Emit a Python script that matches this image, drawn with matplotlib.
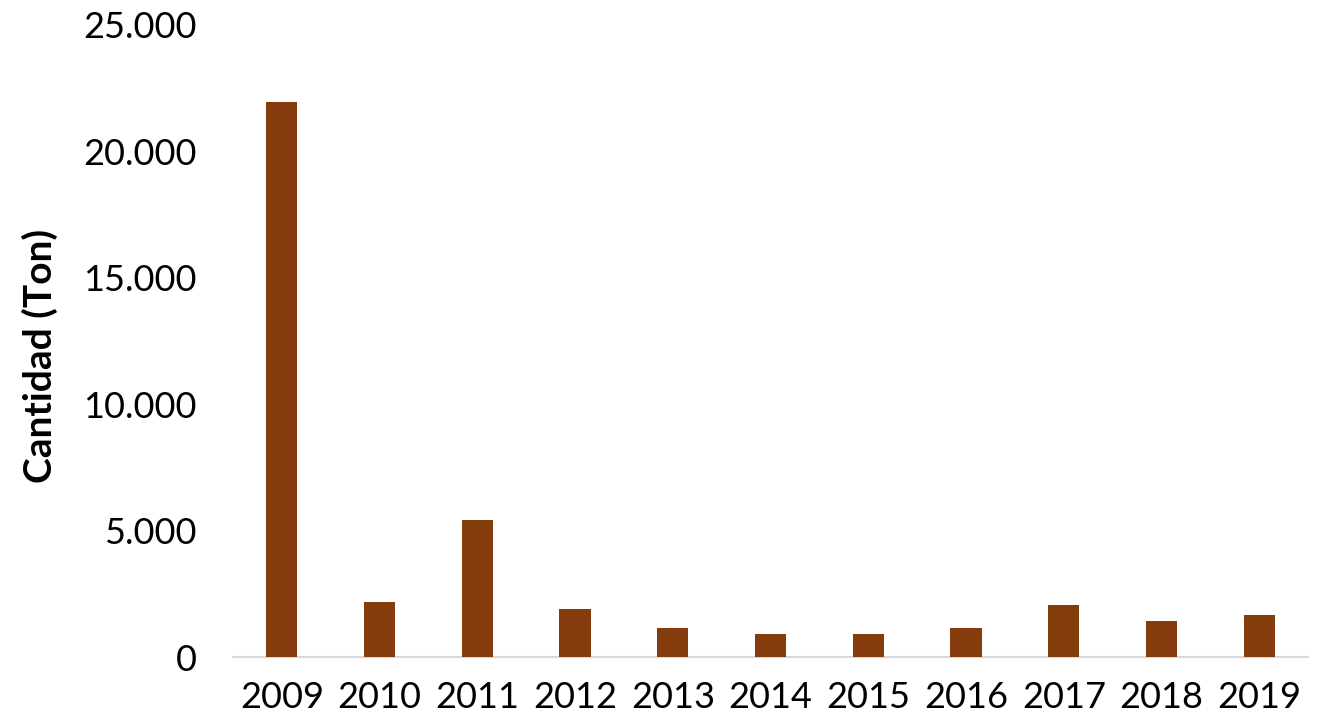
import matplotlib
matplotlib.use("Agg")
import matplotlib.pyplot as plt
from matplotlib.ticker import FuncFormatter

years = ["2009", "2010", "2011", "2012", "2013", "2014", "2015", "2016", "2017", "2018", "2019"]
cantidad = [21950, 2160, 5400, 1900, 1160, 920, 920, 1160, 2040, 1420, 1660]

plt.rcParams['font.family'] = ['Lato', 'DejaVu Sans']

fig = plt.figure(figsize=(13.2, 7.24), dpi=100)
ax = fig.add_axes([0.1765, 0.0925, 0.8145, 0.8735])
x = list(range(len(years)))
ax.bar(x, cantidad, width=0.32, color="#843C0C", zorder=3)

ax.set_xlim(-0.5, len(years) - 0.5)
ax.set_ylim(0, 25000)
ax.set_yticks([0, 5000, 10000, 15000, 20000, 25000])
ax.yaxis.set_major_formatter(FuncFormatter(lambda v, p: f"{int(v):,}".replace(",", ".")))
ax.set_xticks(x)
ax.set_xticklabels(years)

for s in ["top", "right", "left"]:
    ax.spines[s].set_visible(False)
ax.spines["bottom"].set_color("#d9d9d9")
ax.spines["bottom"].set_linewidth(1.5)
ax.tick_params(axis="y", length=0, labelsize=26, pad=26)
ax.tick_params(axis="x", length=0, labelsize=26, pad=17)
ax.set_ylabel("Cantidad (Ton)", fontsize=28, fontweight="bold")
ax.yaxis.set_label_coords(-0.163, 0.4755)
ax.set_facecolor("none")

fig.savefig("out.png", dpi=100, facecolor="white")
